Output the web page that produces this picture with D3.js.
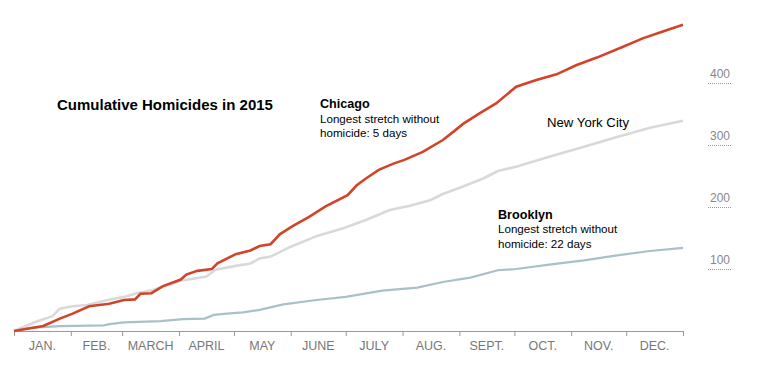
<!DOCTYPE html>
<html>
<head>
<meta charset="utf-8">
<script src="https://cdn.jsdelivr.net/npm/d3@7"></script>
<style>
  html, body { margin: 0; padding: 0; background: #fff; }
  svg { display: block; }
  text { font-family: "Liberation Sans", Arial, sans-serif; }
</style>
</head>
<body>
<svg id="chart" width="761" height="379"></svg>
<script>
// ---- Data (day of year offset from Jan 1, 2015 ; cumulative homicides) ----
const monthLabels = ["JAN.", "FEB.", "MARCH", "APRIL", "MAY", "JUNE", "JULY", "AUG.", "SEPT.", "OCT.", "NOV.", "DEC."];
const yTickValues = [100, 200, 300, 400];

const chicagoDays = [0,16,25,32,41,52,60,66,69,75,81,91,94,100,108,111,121,129,134,140,145,152,161,170,182,187,192,199,207,213,223,234,240,245,254,263,274,285,296,307,318,332,343,354,365];
const chicagoValues = [0,8,20,28,40,44,50,51,60,61,72,83,91,97,100,109,124,130,137,140,156,169,184,201,219,235,246,260,270,276,289,308,322,334,351,367,394,405,414,429,441,458,472,483,494];

const nycDays = [0,12,21,25,32,40,51,60,67,76,91,105,110,121,129,134,140,151,165,180,192,205,216,227,234,245,256,264,274,292,311,329,347,365];
const nycValues = [0,15,24,36,40,42,50,55,61,66,81,88,99,105,109,117,120,136,153,166,179,195,202,211,221,233,246,258,265,281,297,313,328,339];

const brooklynDays = [0,9,25,49,52,60,80,92,104,109,116,125,134,147,165,181,201,220,234,249,264,274,292,311,329,347,365];
const brooklynValues = [0,5,8,9,11,14,16,19,20,26,28,30,34,43,50,55,65,70,79,86,98,100,107,114,122,129,134];

// ---- Setup ----
const svg = d3.select("#chart");
const start = new Date(2015, 0, 1);
const end = new Date(2016, 0, 1);
const x = d3.scaleTime().domain([start, end]).range([14, 683]);
const y = d3.scaleLinear().domain([0, 400]).range([331, 83]);

const toSeries = (days, vals) => days.map((d, i) => ({ date: d3.timeDay.offset(start, d), v: vals[i] }));
const line = d3.line().x(d => x(d.date)).y(d => y(d.v)).curve(d3.curveLinear);

// ---- Y labels with dotted underline ----
const yg = svg.append("g");
yTickValues.forEach(v => {
  yg.append("text")
    .attr("x", 720).attr("y", y(v) - 5)
    .attr("text-anchor", "middle")
    .attr("font-size", 12).attr("fill", "#888")
    .text(v);
  yg.append("line")
    .attr("x1", 708).attr("x2", 731)
    .attr("y1", y(v) + 0.5).attr("y2", y(v) + 0.5)
    .attr("stroke", "#999").attr("stroke-width", 1)
    .attr("stroke-dasharray", "1,1");
});

// ---- X axis ----
const monthStarts = d3.timeMonth.range(start, end).concat([end]);
const axis = d3.axisBottom(x).tickValues(monthStarts).tickSize(5).tickSizeOuter(0).tickFormat("");
const ag = svg.append("g").attr("transform", "translate(0,331)").call(axis);
ag.select(".domain").attr("stroke", "#999");
ag.selectAll(".tick line").attr("stroke", "#999");

const months = d3.timeMonth.range(start, end);
svg.append("g").selectAll("text").data(months).join("text")
  .attr("x", (d, i) => (x(d) + x(monthStarts[i + 1])) / 2)
  .attr("y", 349.5)
  .attr("text-anchor", "middle")
  .attr("font-family", "'Liberation Sans Narrow', 'Liberation Sans', Arial, sans-serif")
  .attr("font-size", 12.5)
  .attr("fill", "#777")
  .text((d, i) => monthLabels[i]);

// ---- Lines ----
svg.append("path").datum(toSeries(nycDays, nycValues))
  .attr("d", line).attr("fill", "none").attr("stroke", "#d9d9d9").attr("stroke-width", 2.6);
svg.append("path").datum(toSeries(brooklynDays, brooklynValues))
  .attr("d", line).attr("fill", "none").attr("stroke", "#a9c0c7").attr("stroke-width", 2.2);
svg.append("path").datum(toSeries(chicagoDays, chicagoValues))
  .attr("d", line).attr("fill", "none").attr("stroke", "#d2442a").attr("stroke-width", 2.6);

// ---- Annotations ----
svg.append("text").attr("x", 57).attr("y", 110)
  .attr("font-size", 15).attr("font-weight", "bold").attr("fill", "#000")
  .text("Cumulative Homicides in 2015");

const ann = (xx, yy, lines) => {
  lines.forEach((t, i) => {
    svg.append("text").attr("x", xx).attr("y", yy + i * 14.5)
      .attr("font-size", i === 0 ? 12.6 : 11.6)
      .attr("font-weight", i === 0 ? "bold" : "normal")
      .attr("fill", "#000").text(t);
  });
};
ann(320, 108, ["Chicago", "Longest stretch without", "homicide: 5 days"]);
ann(498, 218.5, ["Brooklyn", "Longest stretch without", "homicide: 22 days"]);

svg.append("text").attr("x", 547).attr("y", 127)
  .attr("font-size", 13.2).attr("fill", "#000").text("New York City");
</script>
</body>
</html>
